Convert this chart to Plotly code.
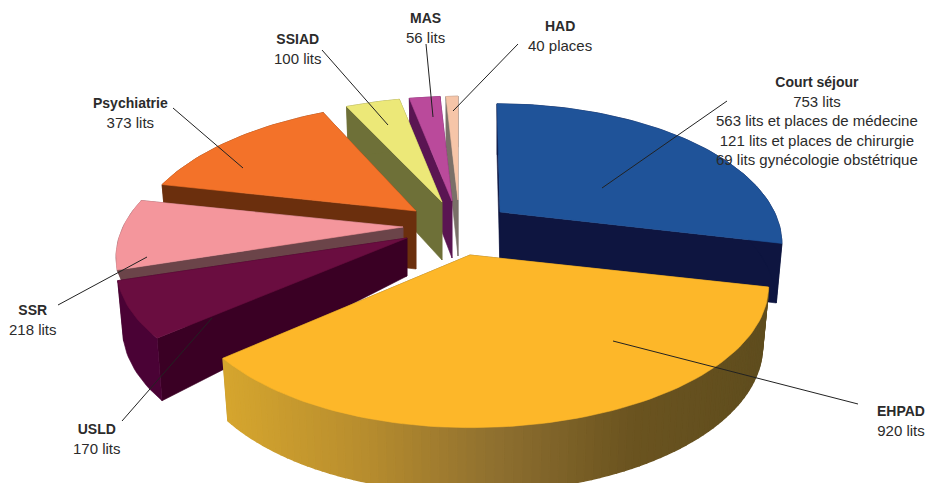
import numpy as np
import plotly.graph_objects as go

categories = ["Court séjour", "EHPAD", "USLD", "SSR", "Psychiatrie", "SSIAD", "MAS", "HAD"]
values = [753, 920, 170, 218, 373, 100, 56, 40]
detail_lines = [
    "753 lits<br>563 lits et places de médecine<br>121 lits et places de chirurgie<br>69 lits gynécologie obstétrique",
    "920 lits", "170 lits", "218 lits", "373 lits", "100 lits", "56 lits", "40 places",
]

# styling of each exploded slice (screen anchor of the tip, far-side shear, local scale)
tip_x = [500, 470, 407, 403, 416, 442, 452, 458]
tip_y = [212, 255, 238, 227, 211, 202, 201, 200]
shear = [3, 0, 0, 0, -12, -9, -10, 0]
scale_left = [1.0, 1.0, 1.012, 1.0, 0.98, 0.98, 1.0, 0.55]
scale_right = [0.98, 1.04, 1.0, 1.0, 1.0, 1.0, 1.0, 1.0]
scale_y = [1.0, 1.02, 0.99, 1.0, 1.0, 0.97, 0.97, 0.96]
tip_depth = [58, 58, 38, 12, 58, 58, 57, 56]
rim_depth = [58, 58, 58, 13, 58, 58, 58, 58]
top_col = ["#1F5399", "#FDB729", "#6A0D40", "#F4969C", "#F37229", "#ECE878", "#BA4A9B", "#F6C5A8"]
wall_col = ["#0E1540", "#6B5420", "#3A0024", "#6B4449", "#6B2F0D", "#6E7038", "#5A1552", "#7A7068"]
rim_col = ["#0E1540", None, "#4A0235", "#6B4449", "#6B2F0D", "#6E7038", "#5A1552", "#7A7068"]
draw_order = [7, 6, 5, 0, 4, 3, 2, 1]

label_x = [817, 901, 97, 33, 130, 298, 425, 560]
label_y = [121, 421, 439, 320, 113, 49, 28, 36]
leaders = [
    (727, 101, 602, 188), (858, 404, 613, 341), (122, 421, 212, 318), (58, 305, 147, 257),
    (173, 108, 243, 168), (322, 50, 388, 125), (426, 44, 433, 117), (518, 44, 453, 111),
]

B, A, K = 280.0, 132.0, 0.22
SHRINK = 0.98


def project(i, theta):
    X, Y = np.sin(theta), -np.cos(theta)
    w = 1.0 / (1.0 - K * Y)
    sx_scale = np.where(X >= 0, scale_right[i], scale_left[i])
    return tip_x[i] + B * X * sx_scale * w + shear[i] * Y, tip_y[i] + A * scale_y[i] * Y * w


def drop(i, sx, sy, theta):
    Y = -np.cos(theta)
    return tip_x[i] + (np.asarray(sx) - tip_x[i]) * SHRINK, np.asarray(sy) + rim_depth[i] * (1 + 0.12 * Y)


def lerp_hex(stops, f):
    pos = np.linspace(0, 1, len(stops))
    rgb = [np.interp(f, pos, [int(s[j:j + 2], 16) for s in stops]) for j in (1, 3, 5)]
    return "rgb(%d,%d,%d)" % tuple(rgb)


def poly(fig, x, y, color, lw=0.6):
    fig.add_trace(go.Scatter(x=list(x), y=list(y), mode="lines", fill="toself", fillcolor=color,
                             line=dict(color=color, width=lw), hoverinfo="skip", showlegend=False))


total = sum(values)
edges = np.cumsum([0] + values) / total * 2 * np.pi
fig = go.Figure()

for i in draw_order:
    a0, a1 = edges[i], edges[i + 1]
    th = np.linspace(a0, a1, max(int((a1 - a0) * 40), 12))
    sx, sy = project(i, th)
    bx, by = drop(i, sx, sy, th)
    tbx, tby = tip_x[i], tip_y[i] + tip_depth[i]
    # the two cut walls, farther one first
    walls = sorted([0, -1], key=lambda e: -np.cos(th[e]))
    for e in walls:
        poly(fig, [tip_x[i], sx[e], bx[e], tbx, tip_x[i]], [tip_y[i], sy[e], by[e], tby, tip_y[i]], wall_col[i])
    # outer rim
    if rim_col[i]:
        poly(fig, np.r_[sx, bx[::-1], sx[0]], np.r_[sy, by[::-1], sy[0]], rim_col[i])
    else:
        span = sx.max() - sx.min()
        for j in range(len(th) - 1):
            f = (0.5 * (sx[j] + sx[j + 1]) - sx.min()) / span
            c = lerp_hex(["#D6A62F", "#B98E2E", "#8F7030", "#6B5420", "#5F4D1E"], f)
            poly(fig, [sx[j], sx[j + 1], bx[j + 1], bx[j], sx[j]], [sy[j], sy[j + 1], by[j + 1], by[j], sy[j]], c, 1.5)
    # top face
    poly(fig, np.r_[tip_x[i], sx, tip_x[i]], np.r_[tip_y[i], sy, tip_y[i]], top_col[i])

fig.update_layout(
    width=928, height=483, margin=dict(l=0, r=0, t=0, b=0),
    paper_bgcolor="white", plot_bgcolor="white", showlegend=False,
    xaxis=dict(range=[0, 928], visible=False, fixedrange=True),
    yaxis=dict(range=[483, 0], visible=False, fixedrange=True),
    shapes=[dict(type="line", x0=a, y0=b, x1=c, y1=d, xref="x", yref="y", layer="above",
                 line=dict(color="#222222", width=1)) for a, b, c, d in leaders],
    annotations=[dict(x=lx, y=ly, xref="x", yref="y", showarrow=False, align="center",
                      xanchor="center", yanchor="middle",
                      text=f'<span style="font-size:14px"><b>{c}</b></span><br>{d}',
                      font=dict(family="Liberation Sans", size=15, color="#2B2B2B"))
                 for c, d, lx, ly in zip(categories, detail_lines, label_x, label_y)],
)
fig.write_html("out.html", config=dict(displayModeBar=False),
               post_script="document.body.style.margin='0';document.documentElement.style.overflow='hidden';")
